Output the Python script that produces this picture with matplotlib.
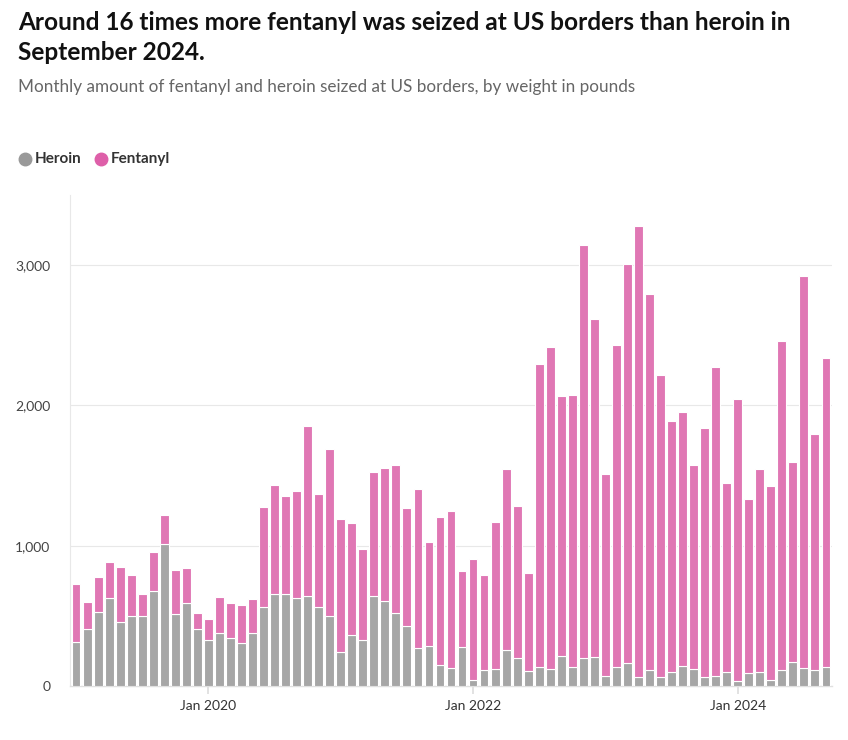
import matplotlib
matplotlib.use("Agg")
import matplotlib.pyplot as plt
from matplotlib.lines import Line2D

plt.rcParams['font.family'] = ['Lato', 'DejaVu Sans']

# Monthly seizures in pounds, Jan 2019 - Sep 2024
months = [f"{y}-{m:02d}" for y in range(2019, 2025) for m in range(1, 13)][:69]
heroin = [312, 405, 528, 630, 455, 500, 500, 678, 1012, 516, 593, 405,
          326, 376, 340, 305, 376, 566, 657, 657, 628, 643, 566, 500,
          243, 364, 328, 640, 605, 521, 431, 271, 286, 152, 131, 276,
          43, 114, 124, 257, 202, 109, 136, 124, 214, 136, 200, 205,
          71, 138, 162, 62, 114, 67, 102, 143, 119, 67, 71, 102,
          36, 90, 100, 43, 114, 171, 126, 114, 133]
fentanyl = [416, 195, 250, 255, 392, 290, 155, 279, 207, 310, 250, 114,
            150, 260, 255, 273, 243, 712, 773, 700, 764, 1213, 805, 1190,
            945, 798, 650, 888, 949, 1054, 835, 1133, 740, 1052, 1114, 547,
            862, 679, 1047, 1290, 1081, 700, 2156, 2296, 1852, 1935, 2942, 2413,
            1440, 2290, 2844, 3215, 2678, 2149, 1785, 1813, 1456, 1770, 2202, 1345,
            2011, 1240, 1449, 1383, 2347, 1423, 2799, 1683, 2204]
tick_labels = ["Jan 2020", "Jan 2022", "Jan 2024"]
tick_months = ["2020-01", "2022-01", "2024-01"]

heroin_color = "#a6a6a6"
fentanyl_color = "#e077b4"

fig = plt.figure(figsize=(8.48, 7.4), dpi=100)
ax = fig.add_axes([70 / 848, 1 - 686 / 740, 762 / 848, 491 / 740])

x = list(range(len(months)))
ax.bar(x, heroin, width=0.8, color=heroin_color, edgecolor="white", linewidth=0.8, zorder=3)
ax.bar(x, fentanyl, bottom=heroin, width=0.8, color=fentanyl_color, edgecolor="white",
       linewidth=0.8, zorder=3)

ax.set_xlim(-0.55, len(months) - 0.45)
ax.set_ylim(0, 3500)
ax.set_yticks([0, 1000, 2000, 3000])
ax.set_yticklabels(["0", "1,000", "2,000", "3,000"])
ax.yaxis.grid(True, color="#e8e8e8", linewidth=0.8, zorder=0)
ax.tick_params(axis="y", length=0, labelsize=10, labelcolor="#444444", pad=14)

ax.set_xticks([months.index(m) for m in tick_months])
ax.set_xticklabels(tick_labels)
ax.tick_params(axis="x", length=6, color="#dddddd", width=1.2, labelsize=10,
               labelcolor="#333333", pad=4)

for s in ["top", "right"]:
    ax.spines[s].set_visible(False)
ax.spines["left"].set_color("#e8e8e8")
ax.spines["bottom"].set_color("#e0e0e0")
ax.spines["bottom"].set_linewidth(1.0)

fig.text(18 / 848, 1 - 22 / 740,
         "Around 16 times more fentanyl was seized at US borders than heroin in",
         fontsize=17.6, fontweight="bold", color="#111111", va="center")
fig.text(18 / 848, 1 - 52 / 740, "September 2024.",
         fontsize=17.6, fontweight="bold", color="#111111", va="center")
fig.text(18 / 848, 1 - 87 / 740,
         "Monthly amount of fentanyl and heroin seized at US borders, by weight in pounds",
         fontsize=12.3, color="#666666", va="center")

# legend
ly = 1 - 159 / 740
for cx, tx, label, col in [(25, 35, "Heroin", "#999999"), (101, 111, "Fentanyl", "#de5fa9")]:
    fig.add_artist(Line2D([cx / 848], [ly], marker="o", markersize=9, color=col,
                          linestyle="none", transform=fig.transFigure))
    fig.text(tx / 848, ly, label, fontsize=11, fontweight="bold", color="#333333", va="center")

fig.savefig("out.png", dpi=100, facecolor="white")
